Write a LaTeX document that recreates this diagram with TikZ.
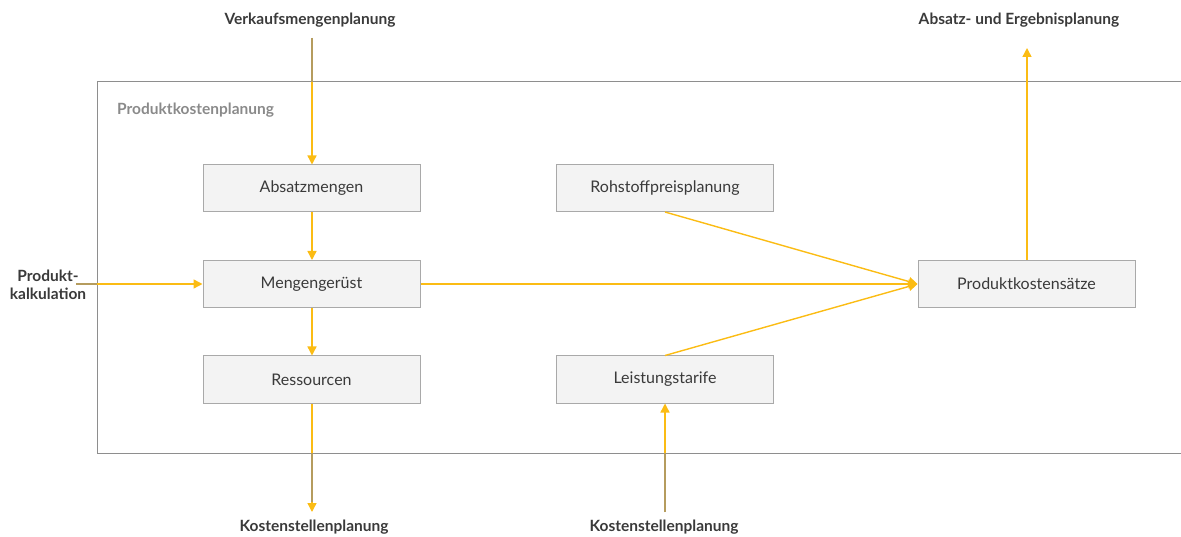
\documentclass[tikz,border=0pt]{standalone}
\usepackage{fontspec}
\setmainfont{Lato}
\usetikzlibrary{arrows.meta}
\definecolor{flow}{HTML}{FBBC14}
\definecolor{flowdark}{HTML}{B59C5E}
\definecolor{boxfill}{HTML}{F3F3F3}
\definecolor{boxline}{HTML}{A9A9A9}
\definecolor{frameline}{HTML}{8E8E8E}
\definecolor{ink}{HTML}{3A3A3A}
\definecolor{greyink}{HTML}{8A8A8A}
\begin{document}
\begin{tikzpicture}[x=1pt,y=-1pt,
  stepbox/.style={draw=boxline,fill=boxfill,line width=1pt,minimum width=217pt,minimum height=47pt,inner sep=0pt,font=\fontsize{16}{19}\selectfont,text=ink},
  extlabel/.style={font=\bfseries\fontsize{15.5}{18}\selectfont,text=ink,inner sep=0pt,align=center},
  flowline/.style={draw=flow,line width=1.4pt,-{Triangle[length=9pt,width=9pt]}},
  outerline/.style={draw=flowdark,line width=1.4pt}]
\useasboundingbox (0,0) rectangle (1181,537);
% process frame
\draw[frameline,line width=1pt] (1181,82) -- (97,82) -- (97,453) -- (1181,453);
\node[anchor=west,font=\bfseries\fontsize{15.5}{18}\selectfont,text=greyink,inner sep=0pt] (frametitle) at (117,110) {Produktkostenplanung};
% process steps
\node[stepbox] (absatz) at (311.5,188.5) {Absatzmengen};
\node[stepbox] (menge) at (311.5,284) {Mengengerüst};
\node[stepbox] (res) at (311.5,379.5) {Ressourcen};
\node[stepbox] (roh) at (665,188) {Rohstoffpreisplanung};
\node[stepbox] (leist) at (665,379.5) {Leistungstarife};
\node[stepbox] (pks) at (1026.5,284) {Produktkostensätze};
% external processes
\node[extlabel] (vmp) at (310,20) {Verkaufsmengenplanung};
\node[extlabel] (pk) at (48,285) {Produkt-\\kalkulation};
\node[extlabel] (aep) at (1019,20) {Absatz- und Ergebnisplanung};
\node[extlabel] (ksp1) at (314,527) {Kostenstellenplanung};
\node[extlabel] (ksp2) at (664,527) {Kostenstellenplanung};
\coordinate (vmpend) at (312,38);
\coordinate (pkend) at (76,284);
\coordinate (aepend) at (1027,48);
\coordinate (ksp1end) at (312,512);
\coordinate (ksp2end) at (665,512);
% flows
\draw[flowline] (vmpend) -- (absatz.north -| vmpend);
\draw[flowline] (absatz.south -| vmpend) -- (menge.north -| vmpend);
\draw[flowline] (menge.south -| vmpend) -- (res.north -| vmpend);
\draw[flowline] (res.south -| ksp1end) -- (ksp1end);
\draw[flowline] (pkend) -- (menge.west);
\draw[flowline] (menge.east) -- (pks.west);
\draw[flowline] (roh.south) -- (pks.west);
\draw[flowline] (leist.north) -- (pks.west);
\draw[flowline] (ksp2end) -- (leist.south);
\draw[flowline] (pks.north -| aepend) -- (aepend);
% segments outside the frame
\draw[outerline] (vmpend) -- (312,82);
\draw[outerline] (pkend) -- (97,284);
\draw[outerline] (312,453) -- (312,502);
\draw[outerline] (ksp2end) -- (665,453);
\end{tikzpicture}
\end{document}
